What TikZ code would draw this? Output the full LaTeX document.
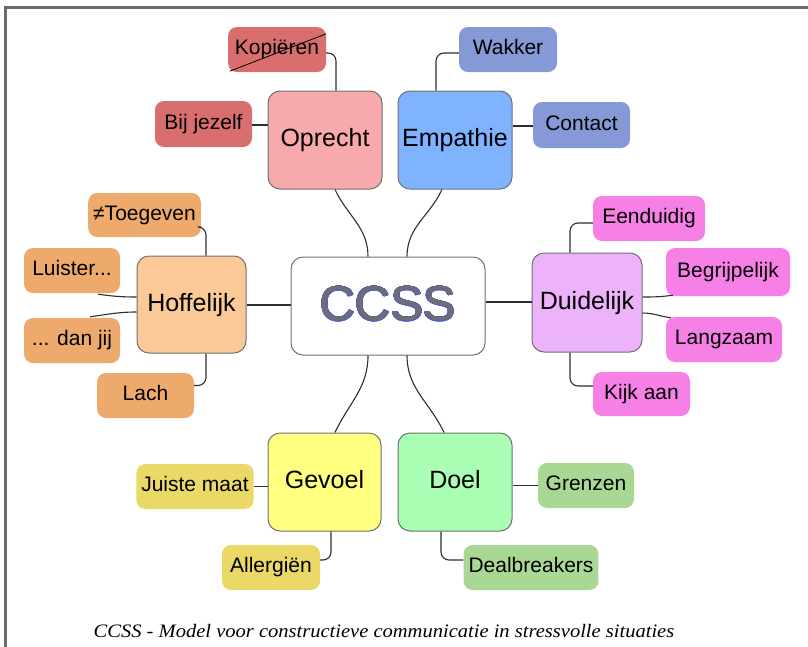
\documentclass[tikz,border=0pt]{standalone}
\usepackage{fontspec}
\setmainfont{Liberation Sans}
\newfontfamily\capfont[FakeStretch=1.08]{Liberation Serif}
\usepackage{contour}
\usetikzlibrary{calc}

\definecolor{boxgray}{HTML}{707070}
\definecolor{linkgray}{HTML}{2E2E2E}
\definecolor{framegray}{HTML}{6B6B6B}
\definecolor{ccssgray}{HTML}{6E6E6E}
\definecolor{ccssblue}{HTML}{4F5FD0}
\definecolor{opfill}{HTML}{F8A9AB}\definecolor{opsub}{HTML}{D86E6E}
\definecolor{emfill}{HTML}{7FB3FF}\definecolor{emsub}{HTML}{8599D6}
\definecolor{hofill}{HTML}{FBC997}\definecolor{hosub}{HTML}{EEAA6C}
\definecolor{dufill}{HTML}{ECB3FA}\definecolor{dusub}{HTML}{F680E6}
\definecolor{gefill}{HTML}{FFFF80}\definecolor{gesub}{HTML}{EAD867}
\definecolor{dofill}{HTML}{AAFFB4}\definecolor{dosub}{HTML}{A9D895}

\contourlength{0.5pt}
\contournumber{48}

\begin{document}
\begin{tikzpicture}[x=1pt, y=-1pt,
  mainbox/.style={draw=boxgray, line width=1pt, rounded corners=12pt, minimum width=114pt, minimum height=98pt,
    font=\fontsize{25}{30}\selectfont, text height=18pt, text depth=5pt},
  subbox/.style={rounded corners=9pt, minimum width=97pt, minimum height=45pt, inner xsep=5pt,
    font=\fontsize{21}{25}\selectfont, text height=15pt, text depth=4.5pt},
  link/.style={draw=linkgray, line width=1.1pt},
  elbow/.style={link, rounded corners=8pt},
  frame/.style={draw=framegray, line width=2.5pt}]
\useasboundingbox (0,0) rectangle (808,646);
\draw[frame] (812,7.5) -- (5.5,7.5) -- (5.5,650);

% centre
\node[mainbox, fill=white, minimum width=194pt, font=\fontsize{49}{55}\selectfont, text height=35pt, text depth=6pt, text=ccssgray] (ccss) at (388,306) {\contour{ccssblue}{CCSS}};

% main branches
\node[mainbox, fill=opfill] (oprecht) at (325,140) {Oprecht};
\node[mainbox, fill=emfill] (empathie) at (455,140) {Empathie};
\node[mainbox, fill=hofill, minimum width=109pt, minimum height=97pt] (hoffelijk) at (191.5,304.5) {Hoffelijk};
\node[mainbox, fill=dufill, minimum width=110pt, minimum height=99pt] (duidelijk) at (587,302.5) {Duidelijk};
\node[mainbox, fill=gefill, minimum width=113pt] (gevoel) at (324.5,482) {Gevoel};
\node[mainbox, fill=dofill] (doel) at (455,482) {Doel};

% leaves
\node[subbox, fill=opsub, minimum width=98pt] (kopieren) at (277,49.5) {Kopiëren};
\node[subbox, fill=opsub, minimum height=46pt] (bijjezelf) at (203.5,124) {Bij jezelf};
\node[subbox, fill=emsub, minimum width=98pt] (wakker) at (508,49.5) {Wakker};
\node[subbox, fill=emsub, minimum height=46pt] (contact) at (581.5,125) {Contact};
\node[subbox, fill=hosub, minimum width=111pt, minimum height=44pt] (toegeven) at (144.5,215) {≠Toegeven};
\node[subbox, fill=hosub, minimum width=96pt] (luister) at (72,270.5) {Luister...};
\node[subbox, fill=hosub, minimum width=96pt] (danjij) at (72,340.5) {... dan jij};
\node[subbox, fill=hosub] (lach) at (145.5,395.5) {Lach};
\node[subbox, fill=dusub, minimum width=112pt] (eenduidig) at (649,218.5) {Eenduidig};
\node[subbox, fill=dusub, minimum width=124pt, minimum height=48pt] (begrijpelijk) at (728,272) {Begrijpelijk};
\node[subbox, fill=dusub, minimum width=116pt] (langzaam) at (724,339.5) {Langzaam};
\node[subbox, fill=dusub, minimum height=44pt] (kijkaan) at (641.5,394) {Kijk aan};
\node[subbox, fill=gesub, minimum width=112pt] (juiste) at (195,486.5) {Juiste maat};
\node[subbox, fill=gesub, minimum width=98pt] (allergien) at (271,567.5) {Allergiën};
\node[subbox, fill=dosub, minimum width=96pt] (grenzen) at (586,485.5) {Grenzen};
\node[subbox, fill=dosub, minimum width=134pt] (dealbreakers) at (531,567.5) {Dealbreakers};

% crossed out
\draw[line width=0.8pt] ($(kopieren.south west)+(2,-1)$) -- ($(kopieren.north east)+(0,7)$);

% centre to branches
\draw[link] ($(oprecht.south)+(10,0)$) to[out=-65,in=90] ($(ccss.north)+(-20,0)$);
\draw[link] ($(empathie.south)+(-13,0)$) to[out=-115,in=90] ($(ccss.north)+(19,0)$);
\draw[link] ($(gevoel.north)+(10.5,0)$) to[out=65,in=-90] ($(ccss.south)+(-20,0)$);
\draw[link] ($(doel.north)+(-11,0)$) to[out=115,in=-90] ($(ccss.south)+(19,0)$);
\draw[link] ($(ccss.west)+(0,-1)$) -- ($(hoffelijk.east)+(0,0.5)$);
\draw[link] ($(ccss.east)+(0,-4)$) -- ($(ccss.east -| duidelijk.west)+(0,-4)$);

% branches to leaves
\draw[elbow] ($(kopieren.east)+(0,3.5)$) -| ($(oprecht.north)+(11,0)$);
\draw[link] ($(bijjezelf.east)+(0,1)$) -- ($(bijjezelf.east -| oprecht.west)+(0,1)$);
\draw[elbow] ($(wakker.west)+(0,3.5)$) -| ($(empathie.north)+(-19,0)$);
\draw[link] ($(contact.west)+(0,1)$) -- ($(contact.west -| empathie.east)+(0,1)$);
\draw[elbow] ($(toegeven.east)+(0,12)$) -| ($(hoffelijk.north)+(14.5,0)$);
\draw[link] ($(luister.south east)+(-22,1)$) to[out=-8,in=180] ($(hoffelijk.west)+(0,-7.5)$);
\draw[link] ($(danjij.north east)+(-30,-1)$) to[out=8,in=180] ($(hoffelijk.west)+(0,7.5)$);
\draw[elbow] ($(lach.east)+(0,-10)$) -| ($(hoffelijk.south)+(14.5,0)$);
\draw[elbow] ($(eenduidig.west)+(0,4.5)$) -| ($(duidelijk.north)+(-17,0)$);
\draw[link] ($(begrijpelijk.south west)+(7,-1)$) to[out=188,in=0] ($(duidelijk.east)+(0,-5.5)$);
\draw[link] ($(langzaam.north west)+(5,1)$) to[out=172,in=0] ($(duidelijk.east)+(0,10.5)$);
\draw[elbow] ($(kijkaan.west)+(0,-8)$) -| ($(duidelijk.south)+(-17,0)$);
\draw[link] (juiste.east) -- (juiste.east -| gevoel.west);
\draw[elbow] ($(allergien.east)+(0,-7.5)$) -| ($(gevoel.south)+(6.5,0)$);
\draw[link] (grenzen.west) -- (grenzen.west -| doel.east);
\draw[elbow] ($(dealbreakers.west)+(0,-7.5)$) -| ($(doel.south)+(-14,0)$);

% caption
\node[font=\capfont\itshape\fontsize{19}{23}\selectfont, anchor=base] (caption) at (384,637) {CCSS - Model voor constructieve communicatie in stressvolle situaties};
\end{tikzpicture}
\end{document}
